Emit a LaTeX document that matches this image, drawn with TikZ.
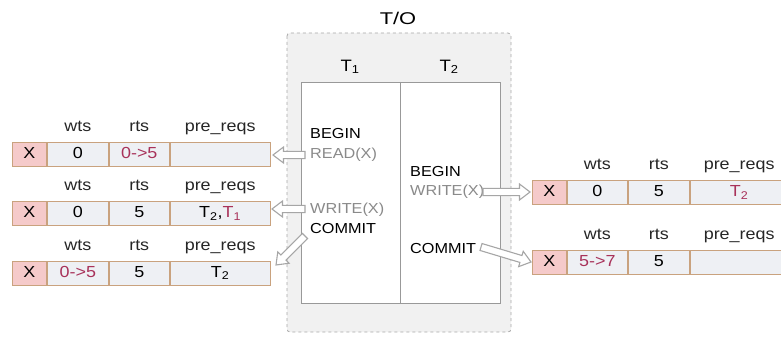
\documentclass[tikz,border=0pt]{standalone}
\usepackage{fontspec}
\setmainfont{Liberation Sans}[FakeStretch=1.12]
\usetikzlibrary{calc}

\definecolor{cellline}{HTML}{C9A27E}
\definecolor{xfill}{HTML}{F5CACA}
\definecolor{vfill}{HTML}{EEF0F4}
\definecolor{hot}{HTML}{A8325A}
\definecolor{opgray}{HTML}{8A8A8A}
\definecolor{panel}{HTML}{F1F1F1}
\definecolor{panelline}{HTML}{A8A8A8}

\newcommand{\fs}[1]{\fontsize{#1}{#1}\selectfont}
\newcommand{\Tn}[1]{T\textsubscript{#1}}

\tikzset{
  cell/.style={draw=cellline, line width=0.9pt, minimum height=24pt,
    inner sep=0pt, anchor=west, text height=11pt, text depth=3pt, font=\fs{16}},
  xcell/.style={cell, fill=xfill, minimum width=34pt},
  vcell/.style={cell, fill=vfill},
  head/.style={font=\fs{16}, text=black!85, inner sep=0pt, text height=11pt, text depth=3pt},
  op/.style={font=\fs{14.5}, anchor=west, inner sep=0pt, text height=10pt, text depth=2pt},
  fatarrow/.style={draw=black!35, fill=white, line width=1.1pt, line join=miter},
}

% one record: name, x of left edge, y of centre, widths of the four cells, contents
\newcommand{\record}[9]{%
  \node[xcell] (#1x) at (#2,#3) {X};
  \node[vcell, minimum width=#4pt] (#1w) at (#1x.east) {#7};
  \node[vcell, minimum width=#5pt] (#1r) at (#1w.east) {#8};
  \node[vcell, minimum width=#6pt] (#1p) at (#1r.east) {#9};
  \node[head] at ($(#1w.center)+(0,-27)$) {wts};
  \node[head] at ($(#1r.center)+(0,-27)$) {rts};
  \node[head] at ($(#1p.center)+(0,-27)$) {pre\_reqs};
}

% hollow block arrow from one point (tail) to another (tip)
\newcommand{\blockarrow}[2]{%
  \coordinate (hb) at ($(#2)!10.5pt!(#1)$);
  \draw[fatarrow]
    ($(#1)!3.6pt!90:(#2)$) -- ($(hb)!3.6pt!-90:(#1)$) -- ($(hb)!8pt!-90:(#1)$)
    -- (#2) -- ($(hb)!8pt!90:(#1)$) -- ($(hb)!3.6pt!90:(#1)$)
    -- ($(#1)!3.6pt!-90:(#2)$) -- cycle;
}

\begin{document}
\begin{tikzpicture}[x=1pt, y=-1pt]
\useasboundingbox (0,0) rectangle (781,342);
\clip (0,0) rectangle (781,342);

% timestamp-ordering panel
\node[font=\fs{17}, xscale=1.15] (to) at (398,18) {T/O};
\draw[panelline, dashed, fill=panel, line width=0.8pt, rounded corners=3pt]
  (287,33) rectangle (511,332);
\draw[black!40, fill=white, line width=0.9pt] (301,82) rectangle (500,303);
\draw[black!40, line width=0.9pt] (400,82) -- (400,303);
\node[font=\fs{16.5}] (t1) at (350,67) {\Tn{1}};
\node[font=\fs{16.5}] (t2) at (449,67) {\Tn{2}};

% operations of T1
\node[op] (b1) at (310,135) {BEGIN};
\node[op, text=opgray] (r1) at (310,154) {READ(X)};
\node[op, text=opgray] (w1) at (310,209) {WRITE(X)};
\node[op] (c1) at (310,229) {COMMIT};
% operations of T2
\node[op] (b2) at (410,172) {BEGIN};
\node[op, text=opgray] (w2) at (410,191) {WRITE(X)};
\node[op] (c2) at (410,249) {COMMIT};

% records of X
\record{ra}{12}{154.5}{61}{60}{100}{0}{\textcolor{hot}{0->5}}{}
\record{rb}{12}{213.5}{61}{60}{100}{0}{5}{\Tn{2},\textcolor{hot}{\Tn{1}}}
\record{rc}{12}{273}{61}{60}{100}{\textcolor{hot}{0->5}}{5}{\Tn{2}}
\record{rd}{532}{192.5}{60}{61}{98}{0}{5}{\textcolor{hot}{\Tn{2}}}
\record{re}{532}{262}{60}{61}{98}{\textcolor{hot}{5->7}}{5}{}

% arrow end points
\coordinate (r1s) at (305,155);  \coordinate (r1e) at (273,155);
\coordinate (w1s) at (305,209);  \coordinate (w1e) at (272,209);
\coordinate (c1s) at (305,236);  \coordinate (c1e) at (276,265);
\coordinate (w2s) at (483,192);  \coordinate (w2e) at (530,192);
\coordinate (c2s) at (481,247);  \coordinate (c2e) at (531,262);

\blockarrow{r1s}{r1e}
\blockarrow{w1s}{w1e}
\blockarrow{c1s}{c1e}
\blockarrow{w2s}{w2e}
\blockarrow{c2s}{c2e}
\end{tikzpicture}
\end{document}
